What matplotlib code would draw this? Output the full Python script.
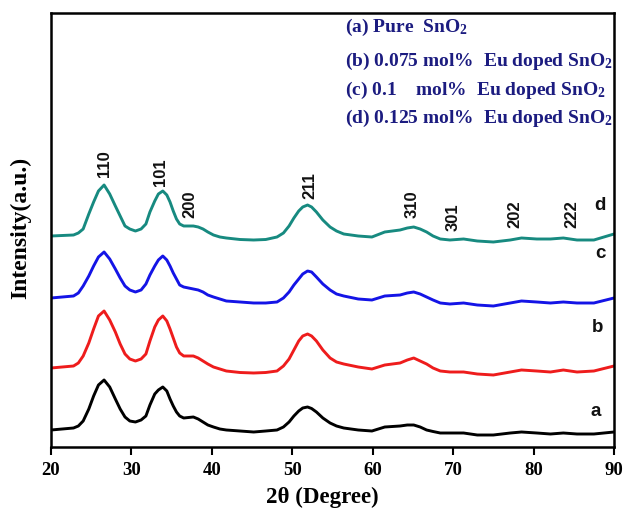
import matplotlib
matplotlib.use("Agg")
import matplotlib.pyplot as plt

plt.rcParams['font.family'] = ['Liberation Serif', 'DejaVu Serif']
plt.rcParams['font.weight'] = 'bold'
plt.rcParams['mathtext.fontset'] = 'custom'
plt.rcParams['mathtext.rm'] = 'Liberation Serif:bold'
plt.rcParams['mathtext.it'] = 'Liberation Serif:bold'
plt.rcParams['mathtext.bf'] = 'Liberation Serif:bold'

# 2theta grid (degrees)
two_theta = [20, 22.8, 23.4, 24.0, 24.7, 25.3, 25.9, 26.6, 27.3, 28.0,
             28.6, 29.2, 29.8, 30.5, 31.2, 31.8, 32.3, 32.9, 33.35, 33.9,
             34.4, 34.8, 35.2, 35.6, 36.0, 36.5, 37.1, 37.7, 38.3, 38.9,
             39.5, 40.2, 41.0, 41.8, 43.5, 45.2, 46.7, 48.1, 48.9, 49.6,
             50.2, 50.8, 51.3, 51.9, 52.4, 53.0, 53.8, 54.7, 55.5, 56.4,
             58.2, 59.9, 61.5, 63.4, 64.3, 65.1, 65.9, 66.7, 67.5, 68.4,
             69.6, 71.3, 73.0, 75.0, 77.1, 78.5, 80.4, 82.1, 83.7, 85.4,
             87.5, 90]

# stacked intensities (a.u., offset already included)
int_a = [17, 19, 21, 26, 38, 51, 62, 67, 60, 48,
         38, 30, 26, 25, 27, 31, 42, 53, 57, 60,
         56, 48, 41, 35, 31, 29, 29.5, 30, 28, 25,
         22, 20, 18, 17, 16, 15, 16, 17, 20, 25,
         31, 36, 39, 40, 38.5, 35, 29, 24, 21, 19,
         17, 16, 20, 21, 22, 22, 20, 17, 15.5, 14,
         14, 14, 12, 12, 14, 15, 14, 13, 14, 13,
         13, 15]
int_b = [79, 81, 84, 91, 104, 118, 131, 136, 127, 115,
         103, 93, 88, 86, 88, 93, 106, 120, 127, 131,
         126, 118, 109, 100, 94, 91, 91, 91, 89, 86,
         83, 80, 78, 76, 74.5, 74, 74.5, 76, 81, 88,
         97, 106, 111, 113, 111, 106, 97, 89, 85, 83,
         80, 78, 82, 84, 87, 89, 86, 83, 79, 76,
         75, 75, 73, 72, 75, 77, 76, 75, 77, 75,
         76, 81]
int_c = [149, 151, 154, 161, 171, 181, 190, 195, 188, 178,
         169, 161, 157, 155, 157, 163, 172, 181, 187, 191,
         187, 181, 174, 168, 162, 160, 159, 158, 157, 155,
         152, 150, 148, 146, 145, 144, 144, 145, 149, 155,
         162, 168, 173, 176, 175, 170, 163, 157, 153, 151,
         148, 147, 151, 152, 154, 155, 153, 150, 147, 144,
         143, 144, 142, 141, 144, 146, 145, 144, 145, 144,
         144, 149]
int_d = [211, 212, 214, 218, 233, 245, 256, 262, 253, 241,
         231, 221, 218, 216, 218, 223, 235, 246, 253, 256,
         252, 245, 236, 228, 223, 221, 221, 221, 220, 218,
         215, 212, 210, 209, 207.5, 207, 207.5, 210, 214, 221,
         229, 236, 240, 242, 240, 235, 227, 220, 216, 213,
         211, 210, 215, 217, 219, 220, 218, 215, 211, 208,
         207, 208, 206, 205, 207, 209, 208, 208, 209, 207,
         207, 213]

series = [int_a, int_b, int_c, int_d]
series_colors = ['#000000', '#ee1c1c', '#1414e6', '#178a80']
curve_tags = ['a', 'b', 'c', 'd']
tag_x = [87.7, 87.9, 88.3, 88.3]
tag_y = [36, 121, 195, 243]

peak_labels = ['110', '101', '200', '211', '310', '301', '202', '222']
peak_x = [26.7, 33.6, 37.3, 52.2, 64.9, 70.0, 77.7, 84.8]
peak_y = [284, 276, 244, 262, 244, 231, 234, 234]

legend_lines = [r'(a) Pure  SnO$_2$',
                r'(b) 0.075 mol%  Eu doped SnO$_2$',
                r'(c) 0.1    mol%  Eu doped SnO$_2$',
                r'(d) 0.125 mol%  Eu doped SnO$_2$']
legend_y = [27, 61, 90, 118]  # pixel rows from top

fig = plt.figure(figsize=(6.25, 5.1), dpi=100)
ax = fig.add_axes([51 / 625, 62 / 510, 563 / 625, 434 / 510])

for ys, col in zip(series, series_colors):
    ax.plot(two_theta, ys, color=col, lw=2.1, solid_joinstyle='round')

for t, x, y in zip(curve_tags, tag_x, tag_y):
    ax.text(x, y, t, ha='center', va='center', fontsize=13.5,
            family='Liberation Sans', weight='bold', color='#111111')

for lab, x, y in zip(peak_labels, peak_x, peak_y):
    ax.text(x, y, lab, ha='center', va='center', rotation=90, fontsize=12,
            family='Liberation Sans', weight='bold', color='#111111')

for txt, py in zip(legend_lines, legend_y):
    fig.text(345 / 625, 1 - py / 510, txt, ha='left', va='center',
             fontsize=14, weight='bold', color='#1c1c80')

ax.set_xlim(20, 90)
ax.set_ylim(0, 434)
ax.set_xticks([20, 30, 40, 50, 60, 70, 80, 90])
ax.set_yticks([])
ax.tick_params(axis='x', direction='out', length=6, width=1.5, pad=4,
               labelsize=13.5)
for lbl in ax.get_xticklabels():
    lbl.set_fontweight('bold')
for sp in ax.spines.values():
    sp.set_linewidth(1.8)

fig.text(322 / 625, 1 - 497 / 510, '2θ (Degree)', ha='center', va='center',
         fontsize=16.5, weight='bold')
fig.text(21 / 625, 1 - 228 / 510, 'Intensity(a.u.)', ha='center', va='center',
         rotation=90, fontsize=17, weight='bold')

fig.savefig('out.png', dpi=100)
